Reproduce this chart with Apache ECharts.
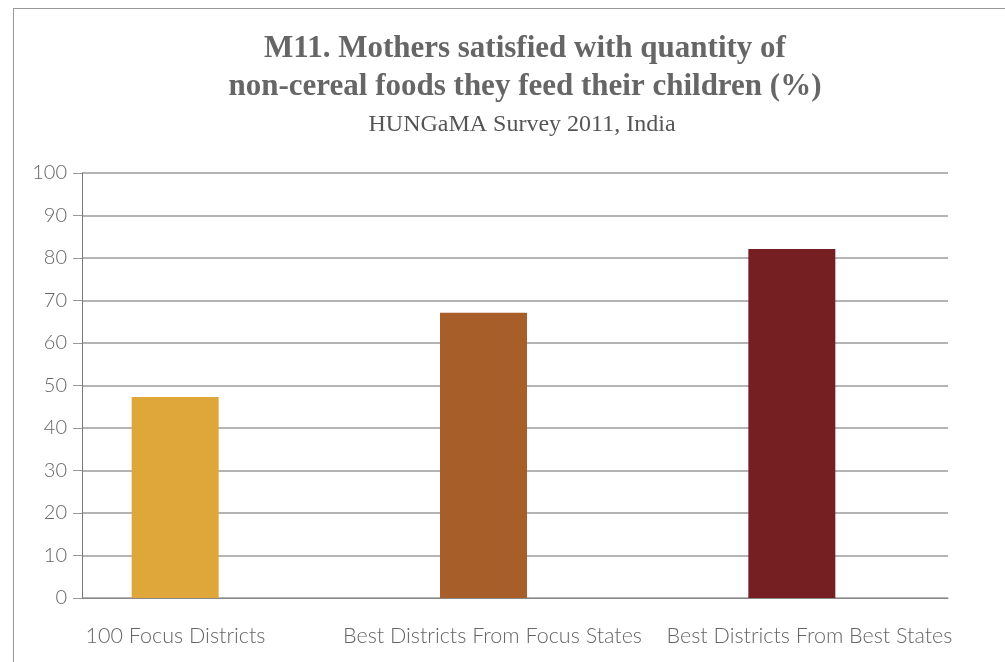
<!DOCTYPE html>
<html>
<head>
<meta charset="utf-8">
<script src="https://cdn.jsdelivr.net/npm/echarts@6/dist/echarts.min.js"></script>
<style>
body{margin:0;background:#fff;}
#main{width:1005px;height:662px;}
#frame{position:absolute;left:13px;top:8px;width:992px;height:654px;border-left:1px solid #999;border-top:1px solid #999;pointer-events:none;}
</style>
</head>
<body>
<div id="main"></div>
<div id="frame"></div>
<script>
// data
var categories = ['100 Focus Districts', 'Best Districts From Focus States', 'Best Districts From Best States'];
var values = [47.3, 67.1, 82.1];
var barColors = ['#DFA639', '#A85E28', '#761F22'];
var titleText = 'M11. Mothers satisfied with quantity of\nnon-cereal foods they feed their children (%)';
var subText = 'HUNGaMA Survey 2011, India';

var chart = echarts.init(document.getElementById('main'));

var option = {
    animation: false,
    title: [{
        text: titleText,
        left: 520,
        top: 25,
        textAlign: 'center',
        textStyle: {
            fontFamily: 'Liberation Serif',
            fontWeight: 'bold',
            fontSize: 31,
            lineHeight: 38,
            color: '#666'
        }
    }, {
        text: subText,
        left: 517,
        top: 108,
        textAlign: 'center',
        textStyle: {
            fontFamily: 'Liberation Serif',
            fontWeight: 'normal',
            fontSize: 24,
            color: '#555'
        }
    }],
    // grid 0: y axis + gridlines, grid 1: bars, grid 2: category labels
    grid: [
        {left: 82, right: 57, top: 173, bottom: 64},
        {left: 21, right: 59, top: 173, bottom: 64},
        {left: 17, right: 37, top: 173, bottom: 64}
    ],
    xAxis: [{
        gridIndex: 0,
        type: 'category',
        data: categories,
        axisLine: {lineStyle: {color: '#888', width: 1}},
        axisTick: {show: false},
        axisLabel: {show: false}
    }, {
        gridIndex: 1,
        type: 'category',
        data: categories,
        show: false
    }, {
        gridIndex: 2,
        type: 'category',
        data: categories,
        axisLine: {show: false},
        axisTick: {show: false},
        axisLabel: {
            interval: 0,
            hideOverlap: false,
            margin: 27,
            fontFamily: 'Lato',
            fontWeight: 300,
            fontSize: 21.5,
            color: '#666'
        }
    }],
    yAxis: [{
        gridIndex: 0,
        type: 'value',
        min: 0,
        max: 100,
        interval: 10,
        axisLine: {show: true, lineStyle: {color: '#777', width: 1}},
        axisTick: {show: true, length: 9, lineStyle: {color: '#999'}},
        axisLabel: {
            margin: 15,
            fontFamily: 'Lato',
            fontWeight: 300,
            fontSize: 20,
            color: '#666'
        },
        splitLine: {lineStyle: {color: '#b4b4b4', width: 2}}
    }, {
        gridIndex: 1,
        type: 'value',
        min: 0,
        max: 100,
        show: false,
        splitLine: {show: false}
    }, {
        gridIndex: 2,
        type: 'value',
        min: 0,
        max: 100,
        show: false,
        splitLine: {show: false}
    }],
    series: [{
        type: 'bar',
        xAxisIndex: 1,
        yAxisIndex: 1,
        barWidth: 87,
        data: values.map(function (v, i) {
            return {value: v, itemStyle: {color: barColors[i]}};
        })
    }]
};

chart.setOption(option);
</script>
</body>
</html>
